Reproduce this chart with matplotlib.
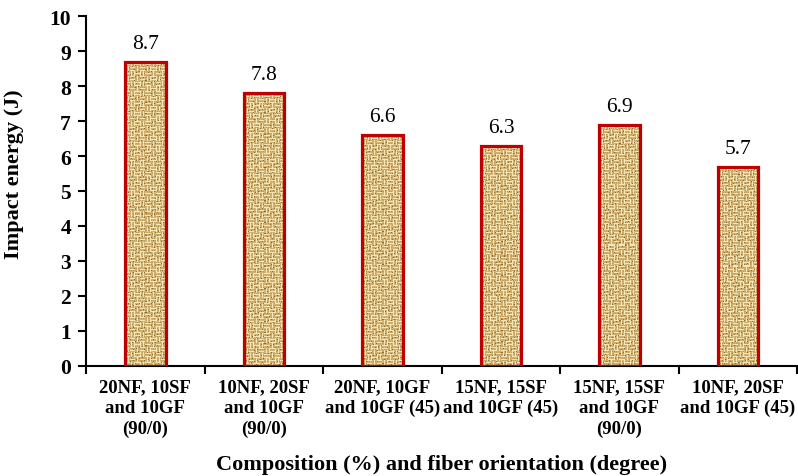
import numpy as np
import matplotlib
matplotlib.use('Agg')
import matplotlib.pyplot as plt
from matplotlib.colors import ListedColormap

categories = ['20NF, 10SF\nand 10GF\n(90/0)',
              '10NF, 20SF\nand 10GF\n(90/0)',
              '20NF, 10GF\nand 10GF (45)',
              '15NF, 15SF\nand 10GF (45)',
              '15NF, 15SF\nand 10GF\n(90/0)',
              '10NF, 20SF\nand 10GF (45)']
impact = [8.7, 7.8, 6.6, 6.3, 6.9, 5.7]

plt.rcParams['font.family'] = ['Liberation Serif', 'DejaVu Serif']

fig = plt.figure(figsize=(7.98, 4.77), dpi=100)
ax = fig.add_axes([0.108, 0.231, 0.891, 0.733])

x = np.arange(len(categories))
bars = ax.bar(x, impact, width=0.34, facecolor='none', edgecolor='#c00000',
              linewidth=2.3, zorder=3)

# woven burlap look for the bar fill
def weave(w, h):
    yy, xx = np.mgrid[0:h, 0:w]
    blk = ((yy // 5) + (xx // 5)) % 2
    t = np.where(blk == 0, (yy % 3 == 0) * 3.0, (xx % 3 == 0) * 3.0)
    t = np.where(t == 0, 1.0 + ((xx * 2 + yy) % 4 == 0), t)
    t = np.where(((xx + 3 * yy) % 11 == 0) & (t < 3), 0.0, t)
    return t

cmap = ListedColormap(['#8f6b34', '#d2b273', '#bb9a5a', '#f3e6b8'])
for b, v in zip(bars, impact):
    img = weave(40, int(v * 35))
    im = ax.imshow(img, cmap=cmap, aspect='auto', interpolation='nearest',
                   extent=[b.get_x(), b.get_x() + b.get_width(), 0, v],
                   vmin=0, vmax=3, zorder=2)
    im.set_clip_path(b)

for xi, v in zip(x, impact):
    ax.text(xi, v + 0.25, '%.1f' % v, ha='center', va='bottom', fontsize=15.5)

ax.set_xlim(-0.5, len(categories) - 0.5)
ax.set_ylim(0, 10)
ax.set_yticks(range(0, 11))
ax.set_xticks(np.arange(-0.5, len(categories), 1.0))
ax.set_xticklabels([])
ax.set_xticks(x, minor=True)
ax.set_xticklabels(categories, minor=True, fontweight='bold', fontsize=13.5,
                   linespacing=1.28, va='top')
ax.tick_params(axis='x', which='minor', length=0, pad=9)
ax.tick_params(axis='x', which='major', length=6, width=1.5, direction='out')
ax.tick_params(axis='y', length=6, width=1.5, labelsize=15.5, pad=5)
for t in ax.get_yticklabels():
    t.set_fontweight('bold')

for s in ['top', 'right']:
    ax.spines[s].set_visible(False)
for s in ['left', 'bottom']:
    ax.spines[s].set_linewidth(1.5)

ax.set_ylabel('Impact energy (J)', fontweight='bold', fontsize=16)
ax.yaxis.set_label_coords(-0.088, 0.55)
ax.set_xlabel('Composition (%) and fiber orientation (degree)',
              fontweight='bold', fontsize=16, labelpad=12)

fig.savefig('out.png', dpi=100)
